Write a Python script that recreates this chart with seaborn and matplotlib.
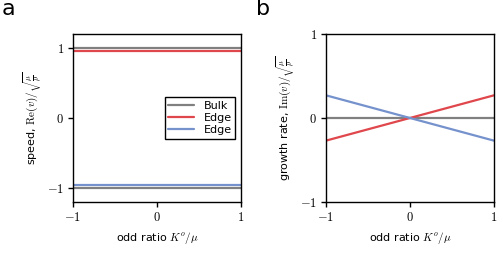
import numpy as np
import pandas as pd
import matplotlib
matplotlib.use("Agg")
import matplotlib.pyplot as plt
import seaborn as sns

# data
odd_ratio = [-1, 1]
speed_bulk_up = [1.0, 1.0]
speed_bulk_down = [-1.0, -1.0]
speed_edge_red = [0.96, 0.96]
speed_edge_blue = [-0.96, -0.96]
growth_bulk = [0.0, 0.0]
growth_edge_red = [-0.27, 0.27]
growth_edge_blue = [0.27, -0.27]

gray = "#808080"
red = "#e0474c"
blue = "#7592cd"

sns.set_theme(style="ticks")
plt.rcParams["font.family"] = ["DejaVu Sans"]
plt.rcParams["mathtext.fontset"] = "cm"
plt.rcParams["axes.edgecolor"] = "black"
plt.rcParams["axes.linewidth"] = 1.0
plt.rcParams["text.color"] = "black"
plt.rcParams["axes.labelcolor"] = "black"
plt.rcParams["xtick.color"] = "black"
plt.rcParams["ytick.color"] = "black"

fig = plt.figure(figsize=(5.03, 2.54), dpi=100)
ax_a = fig.add_axes([0.145, 0.205, 0.334, 0.661])
ax_b = fig.add_axes([0.648, 0.205, 0.334, 0.661])

lw = 1.6
sns.lineplot(x=odd_ratio, y=speed_bulk_up, ax=ax_a, color=gray, lw=lw, label="Bulk")
sns.lineplot(x=odd_ratio, y=speed_edge_red, ax=ax_a, color=red, lw=lw, label="Edge")
sns.lineplot(x=odd_ratio, y=speed_edge_blue, ax=ax_a, color=blue, lw=lw, label="Edge")
sns.lineplot(x=odd_ratio, y=speed_bulk_down, ax=ax_a, color=gray, lw=lw)

sns.lineplot(x=odd_ratio, y=growth_bulk, ax=ax_b, color=gray, lw=lw)
sns.lineplot(x=odd_ratio, y=growth_edge_red, ax=ax_b, color=red, lw=lw)
sns.lineplot(x=odd_ratio, y=growth_edge_blue, ax=ax_b, color=blue, lw=lw)

ax_a.set_ylim(-1.2, 1.2)
ax_b.set_ylim(-1, 1)
for ax in (ax_a, ax_b):
    ax.set_xlim(-1, 1)
    ax.set_xticks([-1, 0, 1])
    ax.set_yticks([-1, 0, 1])
    ax.set_xticklabels([r"$-1$", r"$0$", r"$1$"])
    ax.set_yticklabels([r"$-1$", r"$0$", r"$1$"])
    ax.tick_params(labelsize=9, length=3.5, width=1, color="black", pad=3)
    ax.set_xlabel(r"odd ratio $K^o/\mu$", fontsize=8, labelpad=4)
    for s in ax.spines.values():
        s.set_visible(True)
        s.set_color("black")

ax_a.set_ylabel(r"speed, $\mathrm{Re}(v)/\sqrt{\frac{\mu}{\rho}}$", fontsize=8, labelpad=2)
ax_b.set_ylabel(r"growth rate, $\mathrm{Im}(v)/\sqrt{\frac{\mu}{\rho}}$", fontsize=8, labelpad=2)

leg = ax_a.legend(loc="center right", fontsize=8, frameon=True, fancybox=False,
                  edgecolor="black", framealpha=1, borderpad=0.3, labelspacing=0.2,
                  handlelength=2.3, handletextpad=0.9, bbox_to_anchor=(1.0, 0.5))
leg.get_frame().set_linewidth(1.0)
for t in leg.get_texts():
    t.set_color("black")

fig.text(0.004, 0.94, "a", fontsize=16, va="baseline", color="black")
fig.text(0.508, 0.94, "b", fontsize=16, va="baseline", color="black")

fig.savefig("out.png", dpi=100)
